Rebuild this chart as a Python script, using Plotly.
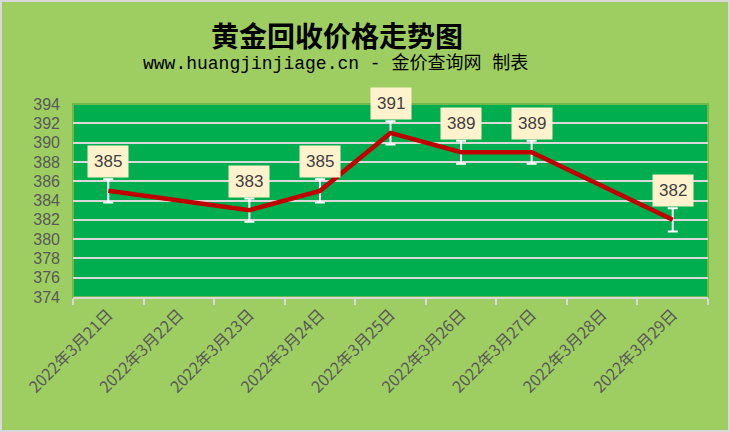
import plotly.graph_objects as go

dates = ["2022年3月21日", "2022年3月22日", "2022年3月23日", "2022年3月24日", "2022年3月25日",
         "2022年3月26日", "2022年3月27日", "2022年3月28日", "2022年3月29日"]
prices = [385, None, 383, 385, 391, 389, 389, None, 382]
err = [1.2, None, 1.2, 1.2, 1.2, 1.2, 1.2, None, 1.2]
y_ticks = list(range(374, 395, 2))

title_text = "黄金回收价格走势图"
subtitle_text = "www.huangjinjiage.cn - 金价查询网 制表"

W, H = 730, 432
L, R, T, B = 73, 22, 104, 135
pw, ph = W - L - R, H - T - B

fig = go.Figure()
fig.add_trace(go.Scatter(
    x=dates, y=prices, mode="lines", connectgaps=True,
    line=dict(color="#C00000", width=4.5),
    error_y=dict(type="data", array=err, visible=True, color="white", thickness=2, width=5),
    hoverinfo="skip", showlegend=False,
))

for d, p in zip(dates, prices):
    if p is None:
        continue
    fig.add_annotation(x=d, y=p, xref="x", yref="y", text=str(p), showarrow=False,
                       yshift=29, bgcolor="#FFF2CC", borderpad=6,
                       font=dict(family="Liberation Sans, Arial", size=17, color="#404040"))

fig.add_annotation(x=(337 - L) / pw, y=1 + (T - 35) / ph, xref="paper", yref="paper",
                   xanchor="center", yanchor="middle",
                   text=title_text, showarrow=False,
                   font=dict(family="Noto Sans CJK SC", size=28, color="black", weight=600))
fig.add_annotation(x=(335 - L) / pw, y=1 + (T - 64) / ph, xref="paper", yref="paper",
                   xanchor="center", yanchor="middle",
                   text=subtitle_text, showarrow=False,
                   font=dict(family="Liberation Mono, Noto Sans CJK SC", size=18, color="black"))

# outer border
fig.add_shape(type="rect", xref="paper", yref="paper",
              x0=-(L - 1) / pw, x1=1 + (R - 1) / pw, y0=-(B - 1) / ph, y1=1 + (T - 1) / ph,
              line=dict(color="#D9D9D9", width=2), fillcolor="rgba(0,0,0,0)")
# plot area border
fig.add_shape(type="rect", xref="paper", yref="paper", x0=0, x1=1, y0=0, y1=1,
              line=dict(color="#70B84A", width=2), fillcolor="rgba(0,0,0,0)", layer="below")

fig.update_layout(
    width=W, height=H,
    margin=dict(l=L, r=R, t=T, b=B),
    paper_bgcolor="#9ECE62",
    plot_bgcolor="#00AD4F",
    xaxis=dict(type="category", categoryarray=dates, categoryorder="array",
               tickangle=-45, tickson="boundaries", ticks="outside", ticklen=6,
               tickcolor="#D9D9D9", tickwidth=2, showgrid=False,
               showline=True, linecolor="#D9D9D9", linewidth=2,
               tickfont=dict(family="Noto Sans CJK SC", size=16, color="#595959"),
               range=[-0.5, 8.5]),
    yaxis=dict(range=[374, 394], tickvals=y_ticks, showgrid=True, gridcolor="#D9D9D9",
               gridwidth=2, zeroline=False, showline=False, ticks="",
               ticklabelstandoff=12,
               tickfont=dict(family="Liberation Sans, Arial", size=16, color="#595959")),
)

fig.write_html("out.html", config={"displayModeBar": False},
               post_script="document.body.style.margin='0';")
